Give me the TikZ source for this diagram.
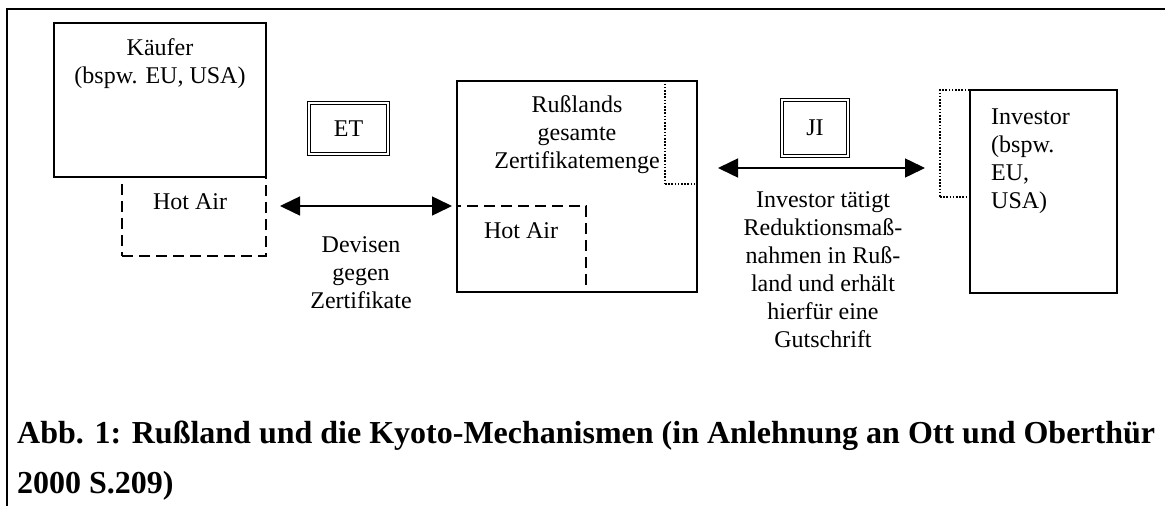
\documentclass[tikz,border=0pt]{standalone}
\usepackage{fontspec}
\setmainfont{Liberation Serif}
\usetikzlibrary{positioning,arrows.meta}

\begin{document}
\begin{tikzpicture}[
  x=1pt, y=-1pt,
  boxstyle/.style={
        draw,
        line width=1.5pt,
        inner sep=0pt,
        outer sep=0pt
  },
  dashstyle/.style={
        boxstyle,
        dash pattern=on 11pt off 6pt
  },
  dotstyle/.style={
        boxstyle,
        line width=1.6pt,
        dash pattern=on 1.6pt off 1.6pt
  },
  doublestyle/.style={
        boxstyle,
        double,
        line width=1.4pt,
        double distance=1.6pt,
        font=\fontsize{24}{28}\selectfont
  },
  textstyle/.style={
        align=center,
        inner sep=0pt,
        font=\fontsize{24}{28}\selectfont
  },
  arrowstyle/.style={
        line width=1.5pt,
        {Triangle[length=20pt,width=19pt]}-{Triangle[length=20pt,width=19pt]}
  }
]

    \useasboundingbox (0,0) rectangle (1165,506);
    \draw[line width=2.5pt] (7,506) -- (7,9) -- (1165,9);

    \node[boxstyle, minimum width=212pt, minimum height=154pt] (Kaeufer) at (160,100) {};
    \node[dashstyle, minimum width=144pt, minimum height=79pt, anchor=north east] (HotAir_1) at (Kaeufer.south east) {};
    \node[textstyle] (Kaeufer_text) at (160,64) {Käufer\\(bspw. EU, USA)};
    \node[textstyle] (HotAir_1_text) at (190,202) {Hot Air};

    \node[doublestyle, minimum width=79pt, minimum height=51pt] (ET) at (348.5,128.5) {ET};

    \node[boxstyle, minimum width=240pt, minimum height=211pt] (Russland) at (577,186.5) {};
    \node[dotstyle, minimum width=32pt, minimum height=103pt, anchor=north east] (Dotted_1) at (Russland.north east) {};
    \node[dashstyle, minimum width=129pt, minimum height=86pt, anchor=south west] (HotAir_2) at (Russland.south west) {};
    \node[textstyle] (Russland_text) at (577,135) {Rußlands\\gesamte\\Zertifikatemenge};
    \node[textstyle] (HotAir_2_text) at (521,231) {Hot Air};

    \node[doublestyle, minimum width=66pt, minimum height=56pt] (JI) at (815,128) {JI};

    \node[boxstyle, minimum width=147pt, minimum height=203pt] (Investor) at (1043.5,191.5) {};
    \node[dotstyle, minimum width=30pt, minimum height=107pt, anchor=north east] (Dotted_2) at (Investor.north west) {};
    \node[textstyle, align=left, anchor=west] (Investor_text) at (991,161) {Investor\\(bspw.\\EU,\\USA)};

    \draw[arrowstyle, shorten <=14pt, shorten >=5pt] (HotAir_1.east |- HotAir_2.north) -- (HotAir_2.north west);
    \node[textstyle] (Devisen) at (361,273) {Devisen\\gegen\\Zertifikate};

    \draw[arrowstyle, shorten <=21pt, shorten >=15pt] ([yshift=-12pt]JI.south -| Russland.east) -- ([yshift=-12pt]JI.south -| Dotted_2.west);
    \node[textstyle] (JI_text) at (823,270) {Investor tätigt\\Reduktionsmaß-\\nahmen in Ruß-\\land und erhält\\hierfür eine\\Gutschrift};

    \node[anchor=west, align=left, inner sep=0pt, font=\fontsize{32}{50}\selectfont\bfseries] (Caption) at (17,461) {Abb. 1: Rußland und die Kyoto-Mechanismen (in Anlehnung an Ott und Oberthür\\2000 S.209)};
\end{tikzpicture}
\end{document}
